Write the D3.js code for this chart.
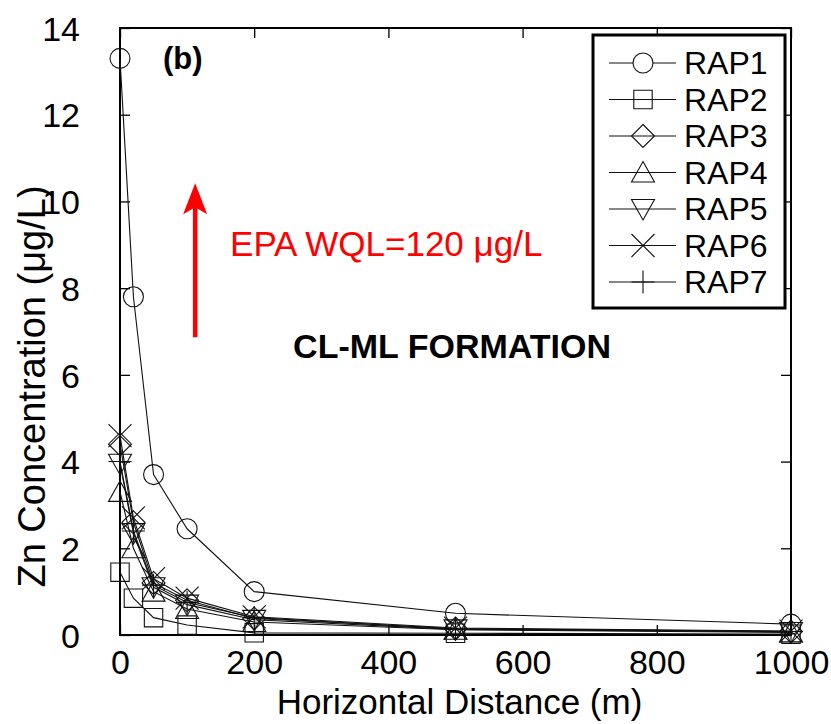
<!DOCTYPE html>
<html>
<head>
<meta charset="utf-8">
<script src="https://cdn.jsdelivr.net/npm/d3@7"></script>
<style>
  html, body { margin: 0; padding: 0; background: #fff; }
  svg text { font-family: "Liberation Sans", Arial, Helvetica, sans-serif; }
</style>
</head>
<body>
<svg id="chart" width="831" height="724"></svg>
<script>
// Horizontal distance from the source (m)
const distances = [0, 20, 50, 100, 200, 500, 1000];

// Zn concentration (µg/L) for each RAP source
const seriesNames = ["RAP1", "RAP2", "RAP3", "RAP4", "RAP5", "RAP6", "RAP7"];
const rap1 = [13.3, 7.8, 3.7, 2.45, 1.0, 0.5, 0.25];
const rap2 = [1.45, 0.85, 0.4, 0.23, 0.05, 0.04, 0.02];
const rap3 = [4.4, 2.6, 1.2, 0.8, 0.38, 0.15, 0.08];
const rap4 = [3.3, 2.0, 1.0, 0.6, 0.3, 0.12, 0.06];
const rap5 = [3.95, 2.35, 1.1, 0.7, 0.35, 0.13, 0.07];
const rap6 = [4.6, 2.7, 1.3, 0.85, 0.42, 0.16, 0.09];
const rap7 = [4.0, 2.4, 1.15, 0.75, 0.4, 0.14, 0.08];
const seriesValues = [rap1, rap2, rap3, rap4, rap5, rap6, rap7];
const markerKinds = ["circle", "square", "diamond", "triangleUp", "triangleDown", "cross", "plus"];

// Axis ticks
const xTicks = [0, 200, 400, 600, 800, 1000];
const yTicks = [0, 2, 4, 6, 8, 10, 12, 14];

// Annotation positions in data units
const wqlArrow = { x: 112, y0: 6.87, y1: 10.42 };
const wqlLabel = { x: 164, y: 8.75, text: "EPA WQL=120 μg/L" };
const formationLabel = { x: 258, y: 6.4, text: "CL-ML FORMATION" };
const panelLabel = { x: 64, y: 13.05, text: "(b)" };

const svg = d3.select("#chart");
const W = 831, H = 724;
const margin = { left: 120, right: 40, top: 28, bottom: 89 };
const innerW = W - margin.left - margin.right;
const innerH = H - margin.top - margin.bottom;

const x = d3.scaleLinear().domain([0, 1000]).range([margin.left, margin.left + innerW]);
const y = d3.scaleLinear().domain([0, 14]).range([margin.top + innerH, margin.top]);

// Marker path generators (hollow)
function markerPath(kind, s) {
  const p = d3.path();
  switch (kind) {
    case "circle":
      p.moveTo(s, 0); p.arc(0, 0, s, 0, 2 * Math.PI); break;
    case "square":
      p.rect(-s * 0.92, -s * 0.92, s * 1.84, s * 1.84); break;
    case "diamond":
      p.moveTo(0, -s * 1.15); p.lineTo(s * 1.15, 0); p.lineTo(0, s * 1.15); p.lineTo(-s * 1.15, 0); p.closePath(); break;
    case "triangleUp":
      p.moveTo(0, -s * 1.1); p.lineTo(s * 1.15, s * 0.95); p.lineTo(-s * 1.15, s * 0.95); p.closePath(); break;
    case "triangleDown":
      p.moveTo(0, s * 1.1); p.lineTo(s * 1.15, -s * 0.95); p.lineTo(-s * 1.15, -s * 0.95); p.closePath(); break;
    case "cross":
      p.moveTo(-s * 1.15, -s * 1.15); p.lineTo(s * 1.15, s * 1.15);
      p.moveTo(s * 1.15, -s * 1.15); p.lineTo(-s * 1.15, s * 1.15); break;
    case "plus":
      p.moveTo(-s * 1.15, 0); p.lineTo(s * 1.15, 0);
      p.moveTo(0, -s * 1.15); p.lineTo(0, s * 1.15); break;
  }
  return p.toString();
}
const markerSize = 10;

// Axes with inward ticks on all four sides
const fontSize = 34;
const xAxis = svg.append("g")
  .attr("transform", `translate(0,${margin.top + innerH})`)
  .call(d3.axisBottom(x).tickValues(xTicks).tickFormat(d3.format("d"))
    .tickSizeInner(-10).tickSizeOuter(0).tickPadding(22));
const yAxis = svg.append("g")
  .attr("transform", `translate(${margin.left},0)`)
  .call(d3.axisLeft(y).tickValues(yTicks).tickFormat(d3.format("d"))
    .tickSizeInner(-10).tickSizeOuter(0).tickPadding(40));
const xTop = svg.append("g")
  .attr("transform", `translate(0,${margin.top})`)
  .call(d3.axisTop(x).tickValues(xTicks).tickSizeInner(-10).tickSizeOuter(0).tickFormat(""));
const yRight = svg.append("g")
  .attr("transform", `translate(${margin.left + innerW},0)`)
  .call(d3.axisRight(y).tickValues(yTicks).tickSizeInner(-10).tickSizeOuter(0).tickFormat(""));

[xAxis, yAxis, xTop, yRight].forEach(g => {
  g.select(".domain").remove();
  g.selectAll(".tick line").attr("stroke", "#000").attr("stroke-width", 1.3);
  g.selectAll(".tick text")
    .attr("fill", "#000")
    .attr("font-size", fontSize)
    .attr("font-family", "'Liberation Sans', Arial, sans-serif");
});
xAxis.selectAll(".tick text").attr("dy", "0.5em");
yAxis.selectAll(".tick text").attr("dy", "0.36em");

// Plot frame
svg.append("rect")
  .attr("x", margin.left).attr("y", margin.top)
  .attr("width", innerW).attr("height", innerH)
  .attr("fill", "none").attr("stroke", "#000").attr("stroke-width", 2);

// Axis titles
svg.append("text")
  .attr("x", margin.left + innerW / 2 + 4).attr("y", 714)
  .attr("text-anchor", "middle").attr("font-size", 35)
  .text("Horizontal Distance (m)");
svg.append("text")
  .attr("transform", `translate(45,${margin.top + innerH / 2 + 55}) rotate(-90)`)
  .attr("text-anchor", "middle").attr("font-size", 38)
  .text("Zn Concentration (μg/L)");

// Series lines and markers
const line = d3.line().x((d, i) => x(distances[i])).y(d => y(d));
const seriesG = svg.append("g");
seriesValues.forEach((vals, si) => {
  seriesG.append("path")
    .datum(vals)
    .attr("d", line)
    .attr("fill", "none").attr("stroke", "#111").attr("stroke-width", 1.1);
  seriesG.selectAll(null)
    .data(vals)
    .enter().append("path")
    .attr("transform", (d, i) => `translate(${x(distances[i])},${y(d)})`)
    .attr("d", markerPath(markerKinds[si], markerSize))
    .attr("fill", "none").attr("stroke", "#111").attr("stroke-width", 1.1);
});

// Panel label and formation label
svg.append("text")
  .attr("x", x(panelLabel.x)).attr("y", y(panelLabel.y))
  .attr("font-size", 31).attr("font-weight", "bold")
  .text(panelLabel.text);
svg.append("text")
  .attr("x", x(formationLabel.x)).attr("y", y(formationLabel.y))
  .attr("font-size", 34).attr("font-weight", "bold")
  .text(formationLabel.text);

// Water quality limit arrow and label
const red = "#ff0000";
svg.append("line")
  .attr("x1", x(wqlArrow.x)).attr("x2", x(wqlArrow.x))
  .attr("y1", y(wqlArrow.y0)).attr("y2", y(wqlArrow.y1) + 20)
  .attr("stroke", red).attr("stroke-width", 4.5);
svg.append("path")
  .attr("d", () => {
    const ax = x(wqlArrow.x), ay = y(wqlArrow.y1);
    return `M${ax},${ay} L${ax + 12},${ay + 31} L${ax},${ay + 24} L${ax - 12},${ay + 31} Z`;
  })
  .attr("fill", red);
svg.append("text")
  .attr("x", x(wqlLabel.x)).attr("y", y(wqlLabel.y))
  .attr("font-size", 35).attr("fill", red)
  .text(wqlLabel.text);

// Legend
const legend = svg.append("g");
const lgX = 593, lgY = 35, lgW = 192, lgH = 273, rowH = 36.5;
legend.append("rect")
  .attr("x", lgX).attr("y", lgY).attr("width", lgW).attr("height", lgH)
  .attr("fill", "#fff").attr("stroke", "#000").attr("stroke-width", 3);
seriesNames.forEach((name, i) => {
  const cy = lgY + 28 + i * rowH;
  const row = legend.append("g");
  row.append("line")
    .attr("x1", lgX + 16).attr("x2", lgX + 83).attr("y1", cy).attr("y2", cy)
    .attr("stroke", "#111").attr("stroke-width", 1.1);
  row.append("path").attr("transform", `translate(${lgX + 50},${cy})`)
    .attr("d", markerPath(markerKinds[i], markerSize))
    .attr("fill", markerKinds[i] === "circle" ? "#fff" : "none")
    .attr("stroke", "#111").attr("stroke-width", 1.1);
  row.append("text")
    .attr("x", lgX + 91).attr("y", cy + 11)
    .attr("font-size", 32)
    .text(name);
});
</script>
</body>
</html>
